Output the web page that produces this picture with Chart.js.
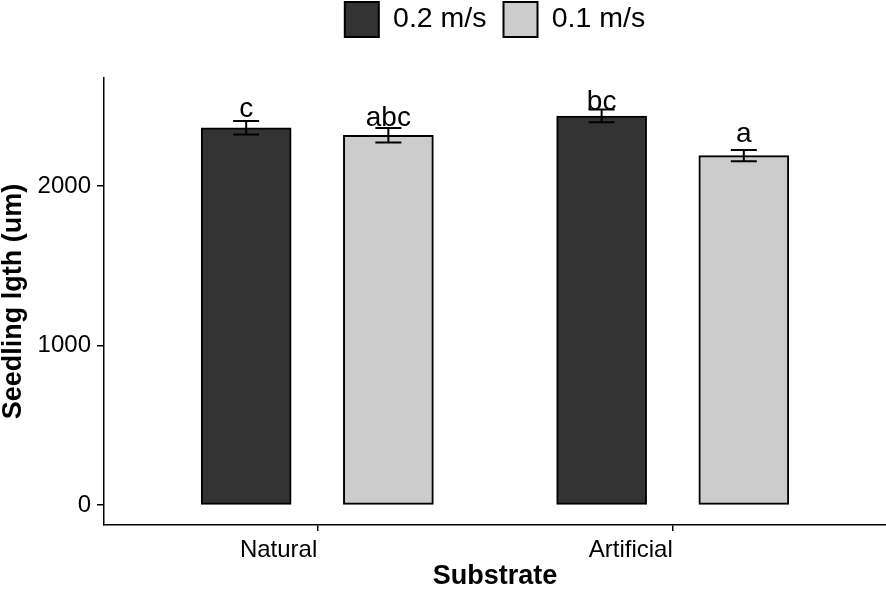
<!DOCTYPE html>
<html>
<head>
<meta charset="utf-8">
<script src="https://cdn.jsdelivr.net/npm/chart.js@4.4.1/dist/chart.umd.min.js"></script>
<style>
  html, body { margin: 0; padding: 0; background: #fff; }
  #wrap { width: 886px; height: 598px; }
</style>
</head>
<body>
<div id="wrap"><canvas id="chart"></canvas></div>
<script>
// groups on the x axis and the two flow speeds
const substrates = ['Natural', 'Artificial'];
const speedLabels = ['0.2 m/s', '0.1 m/s'];

// mean seedling length (um) per substrate
const mean02 = [2365, 2439];
const mean01 = [2318, 2190];
// standard error (um)
const se02 = [42, 40];
const se01 = [46, 35];
// significance letters and the height they sit at (um)
const letters02 = ['c', 'bc'];
const letters01 = ['abc', 'a'];
const letterY02 = [2430, 2476];
const letterY01 = [2376, 2278];

const yTicks = [0, 1000, 2000];

const fills = ['#333333', '#CCCCCC'];
const dodge = [-0.2, 0.2];

Chart.defaults.font.family = "'Liberation Sans', Arial, sans-serif";
Chart.defaults.color = '#000';

function makeSeries(i, means, ses, letters, letterY) {
    return {
        label: speedLabels[i],
        data: means.map((v, g) => ({ x: g + 1 + dodge[i], y: v })),
        errors: ses,
        letters: letters,
        letterY: letterY,
        backgroundColor: fills[i],
        borderColor: '#000',
        borderWidth: 2,
        borderSkipped: false,
        barThickness: 90,
        grouped: false
    };
}

// error bars + letters on top of the bars
const errorBars = {
    id: 'errorBars',
    afterDatasetsDraw(chart) {
        const { ctx, scales: { x, y } } = chart;
        ctx.save();
        ctx.strokeStyle = '#000';
        ctx.lineWidth = 2;
        ctx.fillStyle = '#000';
        ctx.font = "28px 'Liberation Sans', Arial, sans-serif";
        ctx.textAlign = 'center';
        ctx.textBaseline = 'alphabetic';
        chart.data.datasets.forEach(ds => {
            ds.data.forEach((pt, g) => {
                const px = x.getPixelForValue(pt.x);
                const top = y.getPixelForValue(pt.y + ds.errors[g]);
                const bot = y.getPixelForValue(pt.y - ds.errors[g]);
                ctx.beginPath();
                ctx.moveTo(px, top); ctx.lineTo(px, bot);
                ctx.moveTo(px - 13, top); ctx.lineTo(px + 13, top);
                ctx.moveTo(px - 13, bot); ctx.lineTo(px + 13, bot);
                ctx.stroke();
                ctx.fillText(ds.letters[g], px, y.getPixelForValue(ds.letterY[g]));
            });
        });
        ctx.restore();
    }
};

new Chart(document.getElementById('chart'), {
    type: 'bar',
    data: {
        datasets: [
            makeSeries(0, mean02, se02, letters02, letterY02),
            makeSeries(1, mean01, se01, letters01, letterY01)
        ]
    },
    options: {
        responsive: true,
        maintainAspectRatio: false,
        animation: false,
        layout: { padding: { top: -15, left: 0, right: 0, bottom: 0 } },
        plugins: {
            legend: {
                position: 'top',
                fullSize: false,
                weight: 1000,
                labels: {
                    boxWidth: 34,
                    boxHeight: 35,
                    padding: 17,
                    color: '#000',
                    font: { size: 28.5 }
                }
            },
            // empty title only used as a spacer between legend and panel
            title: {
                display: true,
                text: ' ',
                fullSize: false,
                weight: 500,
                font: { size: 1, lineHeight: 1 },
                padding: { top: 0, bottom: 30 }
            },
            tooltip: { enabled: false }
        },
        scales: {
            x: {
                type: 'linear',
                min: 0.4,
                max: 2.6,
                offset: false,
                afterBuildTicks: a => { a.ticks = substrates.map((s, i) => ({ value: i + 1 })); },
                afterFit: a => { a.height = 73; },
                grid: { offset: false, drawOnChartArea: false, drawTicks: true, tickLength: 6, color: '#000', lineWidth: 1.5 },
                border: { display: true, color: '#000', width: 1.5 },
                ticks: {
                    align: 'end',
                    padding: 5,
                    color: '#000',
                    font: { size: 24 },
                    callback: v => substrates[v - 1]
                },
                title: {
                    display: true,
                    text: 'Substrate',
                    color: '#000',
                    font: { size: 27, weight: 'bold', lineHeight: 1 },
                    padding: { top: 0, bottom: 8 }
                }
            },
            y: {
                type: 'linear',
                min: -125,
                max: 2677,
                afterBuildTicks: a => { a.ticks = yTicks.map(v => ({ value: v })); },
                afterFit: a => { a.width = 104; },
                grid: { drawOnChartArea: false, drawTicks: true, tickLength: 7, color: '#000', lineWidth: 1.5 },
                border: { display: true, color: '#000', width: 1.5 },
                ticks: { padding: 6, color: '#000', font: { size: 24 }, callback: v => String(v) },
                title: {
                    display: true,
                    text: 'Seedling lgth (um)',
                    color: '#000',
                    font: { size: 27, weight: 'bold', lineHeight: 1 },
                    padding: { top: 0, bottom: 0 }
                }
            }
        }
    },
    plugins: [errorBars]
});
</script>
</body>
</html>
